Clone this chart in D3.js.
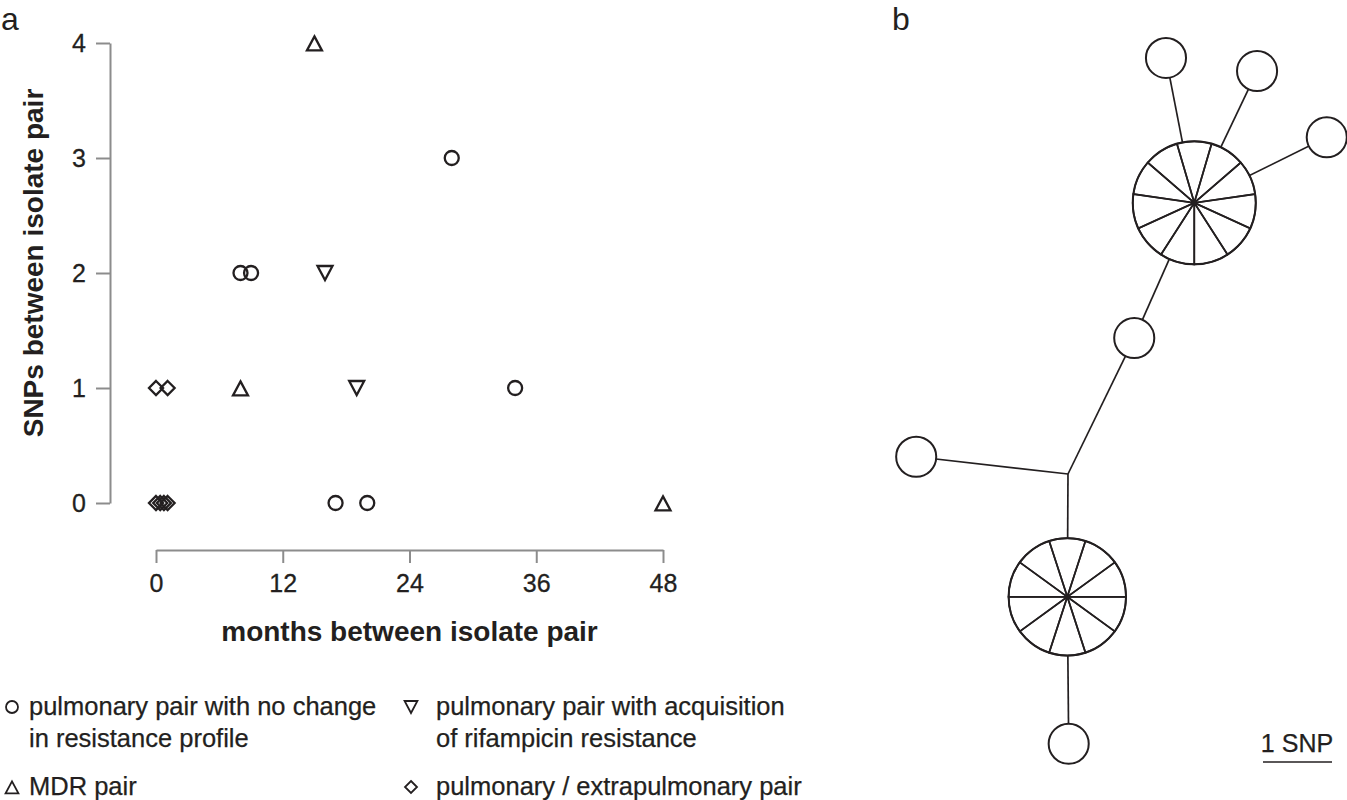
<!DOCTYPE html>
<html>
<head>
<meta charset="utf-8">
<script src="https://cdn.jsdelivr.net/npm/d3@7/dist/d3.min.js"></script>
<style>
  html, body { margin: 0; padding: 0; background: #fff; }
  svg { display: block; font-family: "Liberation Sans", Arial, Helvetica, sans-serif; }
</style>
</head>
<body>
<svg id="chart" width="1347" height="800"></svg>
<script>
// ---------- Panel a data ----------
const months = [8, 9, 28, 34, 17, 20,   16, 19,   15, 8, 48,   0, 1.1, 0, 0.4, 0.75, 1.1];
const snps   = [2, 2, 3, 1, 0, 0,       2, 1,     4, 1, 0,     1, 1, 0, 0, 0, 0];
const pairType = ["none","none","none","none","none","none",
                  "rif","rif",
                  "mdr","mdr","mdr",
                  "extra","extra","extra","extra","extra","extra"];
const xTicks = [0, 12, 24, 36, 48];
const yTicks = [0, 1, 2, 3, 4];
const legendKeys = ["none", "rif", "mdr", "extra"];
const legendLines = [
  ["pulmonary pair with no change", "in resistance profile"],
  ["pulmonary pair with acquisition", "of rifampicin resistance"],
  ["MDR pair"],
  ["pulmonary / extrapulmonary pair"]
];

// ---------- Panel b data (haplotype network, layout in SNP units) ----------
const nodeIds    = ["hubTop", "s1", "s2", "s3", "mid", "left", "hubBottom", "bottom", "junction"];
const nodeCounts = [11, 1, 1, 1, 1, 1, 10, 1, 0];
const nodeLX     = [1.83, 1.42, 2.74, 3.75, 0.96, -2.20, -0.01, 0.01, 0];
const nodeLY     = [-3.93, -6.03, -5.84, -4.88, -1.97, -0.25, 1.78, 3.91, 0];
const linkSource = ["hubTop", "hubTop", "hubTop", "hubTop", "mid", "junction", "junction", "hubBottom"];
const linkTarget = ["s1", "s2", "s3", "mid", "junction", "left", "hubBottom", "bottom"];

const svg = d3.select("#chart");
const ink = "#231f20";
const axisGrey = "#8c8c8c";

// ---------- Panel a ----------
const x = d3.scaleLinear().domain([0, 48]).range([156, 663]);
const y = d3.scaleLinear().domain([0, 4]).range([503, 43]);

const xAxis = svg.append("g").attr("transform", "translate(0,550)")
  .call(d3.axisBottom(x).tickValues(xTicks).tickFormat(d3.format("d")).tickSize(13).tickPadding(11).tickSizeOuter(0));
const yAxis = svg.append("g").attr("transform", "translate(110,0)")
  .call(d3.axisLeft(y).tickValues(yTicks).tickFormat(d3.format("d")).tickSize(14).tickPadding(10).tickSizeOuter(0));
[xAxis, yAxis].forEach(g => {
  g.select(".domain").attr("stroke", axisGrey).attr("stroke-width", 2);
  g.selectAll(".tick line").attr("stroke", axisGrey).attr("stroke-width", 2);
  g.selectAll(".tick text").attr("fill", ink).attr("font-size", 25)
    .attr("font-family", "'Liberation Sans', Arial, sans-serif")
    .attr("stroke", ink).attr("stroke-width", 0.3);
});
xAxis.selectAll(".tick text").attr("dy", "0.71em");

svg.append("text").attr("x", 409.5).attr("y", 641).attr("text-anchor", "middle")
  .attr("font-size", 28).attr("font-weight", "bold").attr("fill", ink)
  .text("months between isolate pair");
svg.append("text").attr("transform", "translate(43,263) rotate(-90)").attr("text-anchor", "middle")
  .attr("font-size", 28).attr("font-weight", "bold").attr("fill", ink)
  .text("SNPs between isolate pair");

function markerPath(type, s) {
  const p = d3.path();
  if (type === "none") { p.moveTo(s, 0); p.arc(0, 0, s, 0, 2 * Math.PI); }
  else if (type === "mdr") { p.moveTo(0, -s * 0.95); p.lineTo(s * 1.07, s * 1.05); p.lineTo(-s * 1.07, s * 1.05); p.closePath(); }
  else if (type === "rif") { p.moveTo(-s * 1.07, -s * 1.0); p.lineTo(s * 1.07, -s * 1.0); p.lineTo(0, s * 1.0); p.closePath(); }
  else { p.moveTo(0, -s); p.lineTo(s, 0); p.lineTo(0, s); p.lineTo(-s, 0); p.closePath(); }
  return p.toString();
}

svg.append("g").selectAll("path").data(months.map((m, i) => ({m, s: snps[i], t: pairType[i]})))
  .join("path")
  .attr("transform", d => `translate(${x(d.m)},${y(d.s)})`)
  .attr("d", d => markerPath(d.t, 7))
  .attr("fill", "none").attr("stroke", ink).attr("stroke-width", 2.3).attr("stroke-linejoin", "miter");

// Legend
const legPos = [{sx: 12, tx: 29, ty: 715}, {sx: 411, tx: 436, ty: 715}, {sx: 12, tx: 29, ty: 795}, {sx: 411, tx: 436, ty: 795}];
legendKeys.forEach((k, i) => {
  const p = legPos[i];
  svg.append("path").attr("transform", `translate(${p.sx},${p.ty - 8})`)
    .attr("d", markerPath(k, 6)).attr("fill", "none").attr("stroke", ink).attr("stroke-width", 1.8);
  const t = svg.append("text").attr("x", p.tx).attr("y", p.ty).attr("font-size", 25.5).attr("fill", ink)
    .attr("stroke", ink).attr("stroke-width", 0.25);
  legendLines[i].forEach((line, j) => {
    t.append("tspan").attr("x", p.tx).attr("dy", j === 0 ? 0 : 32).text(line);
  });
});

// Panel labels
svg.append("text").attr("x", 1).attr("y", 30).attr("font-size", 32).attr("fill", ink).text("a");
svg.append("text").attr("x", 892).attr("y", 30).attr("font-size", 32).attr("fill", ink).text("b");

// ---------- Panel b ----------
const nx = d3.scaleLinear().domain([0, 1]).range([1068, 1137]);
const ny = d3.scaleLinear().domain([0, 1]).range([474, 543]);
const r = d3.scaleSqrt().domain([0, 11]).range([0, 60.5]);

const nodes = nodeIds.map((id, i) => ({id, n: nodeCounts[i], px: nx(nodeLX[i]), py: ny(nodeLY[i])}));
const byId = new Map(nodes.map(d => [d.id, d]));
const links = linkSource.map((s, i) => ({s: byId.get(s), t: byId.get(linkTarget[i])}));

svg.append("g").selectAll("line").data(links).join("line")
  .attr("x1", d => d.s.px).attr("y1", d => d.s.py)
  .attr("x2", d => d.t.px).attr("y2", d => d.t.py)
  .attr("stroke", ink).attr("stroke-width", 1.7);

const nodeG = svg.append("g").selectAll("g").data(nodes.filter(d => d.n > 0)).join("g")
  .attr("transform", d => `translate(${d.px},${d.py})`);
nodeG.append("circle").attr("r", d => r(d.n) + (d.n === 1 ? 1.8 : 1))
  .attr("fill", "#fff").attr("stroke", ink).attr("stroke-width", 2);

// pie spokes for the multi-isolate hubs
const hubStart = {hubTop: Math.PI, hubBottom: Math.PI / 2};
nodeG.filter(d => d.n > 1).each(function(d) {
  const pie = d3.pie().sort(null).value(1).startAngle(hubStart[d.id]).endAngle(hubStart[d.id] + 2 * Math.PI);
  const arc = d3.arc().innerRadius(0).outerRadius(r(d.n) + 1);
  d3.select(this).selectAll("path").data(pie(d3.range(d.n))).join("path")
    .attr("d", arc).attr("fill", "none").attr("stroke", ink).attr("stroke-width", 1.7);
  d3.select(this).append("circle").attr("r", 2.5).attr("fill", ink);
});

// scale bar
svg.append("text").attr("x", 1297).attr("y", 752).attr("text-anchor", "middle")
  .attr("font-size", 25).attr("fill", ink).attr("stroke", ink).attr("stroke-width", 0.25).text("1 SNP");
svg.append("line").attr("x1", 1263).attr("x2", 1263 + (nx(1) - nx(0))).attr("y1", 762).attr("y2", 762)
  .attr("stroke", ink).attr("stroke-width", 1.7);
</script>
</body>
</html>
